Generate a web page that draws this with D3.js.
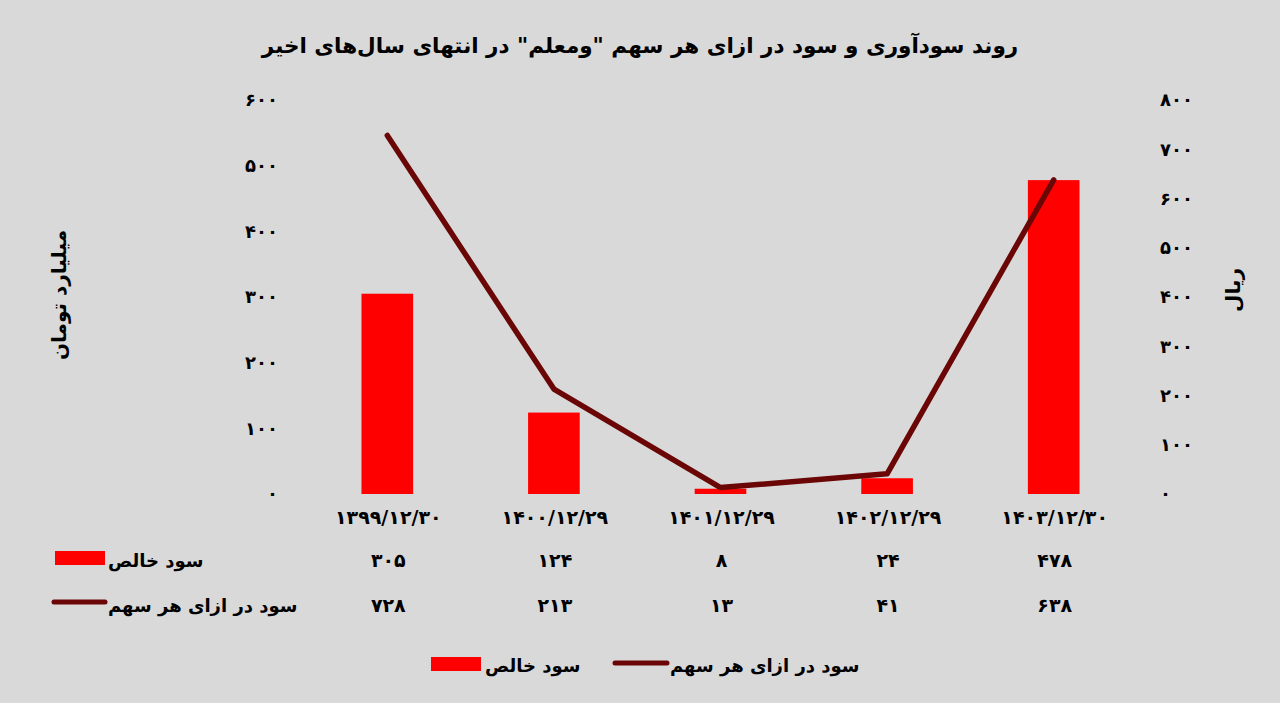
<html>
<head>
<meta charset="utf-8">
<style>
  body { margin: 0; background: #d9d9d9; }
  text { font-family: "DejaVu Sans", sans-serif; font-weight: bold; fill: #000; }
</style>
</head>
<body>
<svg id="mainSvg" width="1280" height="703"></svg>
<script src="https://d3js.org/d3.v7.min.js"></script>
<script>
const categories = ['1399/12/30', '1400/12/29', '1401/12/29', '1402/12/29', '1403/12/30']
const netProfit = [305, 124, 8, 24, 478]
const eps = [728, 213, 13, 41, 638]
const leftTicks = [0, 100, 200, 300, 400, 500, 600]
const rightTicks = [0, 100, 200, 300, 400, 500, 600, 700, 800]

const titleText = 'روند سودآوری و سود در ازای هر سهم "ومعلم" در انتهای سال‌های اخیر'
const barName = 'سود خالص'
const lineName = 'سود در ازای هر سهم'
const leftTitle = 'میلیارد تومان'
const rightTitle = 'ریال'

const barColor = '#ff0000', lineColor = '#6b0606'
const fa = v => String(v).replace(/\d/g, d => '۰۱۲۳۴۵۶۷۸۹'[d])

const svg = d3.select('#mainSvg')
svg.append('rect').attr('width', 1280).attr('height', 703).attr('fill', '#d9d9d9')

const plotTop = 100, plotBottom = 494, plotLeft = 304, plotRight = 1137

const xScale = d3.scaleBand().domain(categories).range([plotLeft, plotRight])
                .paddingInner(0.69).paddingOuter(0.345)
const yLeft = d3.scaleLinear().domain([0, 600]).range([plotBottom, plotTop])
const yRight = d3.scaleLinear().domain([0, 800]).range([plotBottom, plotTop])

// title
svg.append('text').attr('x', 640).attr('y', 53).attr('text-anchor', 'middle')
   .style('font-size', '21.5px').text(titleText)

// axes
const gl = svg.append('g').attr('transform', `translate(284,0)`)
   .call(d3.axisLeft(yLeft).tickValues(leftTicks).tickFormat(fa).tickSize(0).tickPadding(6))
gl.select('.domain').remove()
gl.selectAll('text').style('font-size', '18px').style('letter-spacing', '3.5px')
   .style('font-family', '"DejaVu Sans", sans-serif').attr('font-weight', 'bold')

const gr = svg.append('g').attr('transform', `translate(1154,0)`)
   .call(d3.axisRight(yRight).tickValues(rightTicks).tickFormat(fa).tickSize(0).tickPadding(6))
gr.select('.domain').remove()
gr.selectAll('text').style('font-size', '18px').style('letter-spacing', '3.5px')
   .style('font-family', '"DejaVu Sans", sans-serif').attr('font-weight', 'bold')

// axis titles
svg.append('text').attr('transform', 'translate(66,295) rotate(-90)').attr('text-anchor', 'middle')
   .style('font-size', '20px').text(leftTitle)
svg.append('text').attr('transform', 'translate(1240,290) rotate(-90)').attr('text-anchor', 'middle')
   .style('font-size', '20px').text(rightTitle)

// bars
svg.append('g').selectAll('rect').data(netProfit).join('rect')
   .attr('x', (d, i) => xScale(categories[i]))
   .attr('y', d => yLeft(d))
   .attr('width', xScale.bandwidth())
   .attr('height', d => yLeft(0) - yLeft(d))
   .attr('fill', barColor)

// line
const cx = c => xScale(c) + xScale.bandwidth() / 2
const line = d3.line().x((d, i) => cx(categories[i])).y(d => yRight(d))
svg.append('path').datum(eps).attr('d', line)
   .attr('fill', 'none').attr('stroke', lineColor).attr('stroke-width', 5.5)
   .attr('stroke-linecap', 'round').attr('stroke-linejoin', 'round')

// category labels
svg.append('g').selectAll('text').data(categories).join('text')
   .attr('x', d => cx(d) + 1).attr('y', 524).attr('text-anchor', 'middle')
   .style('font-size', '19px').style('letter-spacing', '2.6px').text(d => fa(d))

// data table
const rowY = [560, 605]
svg.append('g').selectAll('text').data(netProfit).join('text')
   .attr('x', (d, i) => cx(categories[i]) + 1).attr('y', rowY[0] + 7).attr('text-anchor', 'middle')
   .style('font-size', '19px').style('letter-spacing', '2px').text(d => fa(d))
svg.append('g').selectAll('text').data(eps).join('text')
   .attr('x', (d, i) => cx(categories[i]) + 1).attr('y', rowY[1] + 7).attr('text-anchor', 'middle')
   .style('font-size', '19px').style('letter-spacing', '2px').text(d => fa(d))

svg.append('rect').attr('x', 55).attr('y', rowY[0] - 9).attr('width', 50).attr('height', 14).attr('fill', barColor)
svg.append('text').attr('x', 108).attr('y', rowY[0] + 7).style('font-size', '18px').text(barName)
svg.append('line').attr('x1', 54).attr('x2', 105).attr('y1', rowY[1] - 3).attr('y2', rowY[1] - 3)
   .attr('stroke', lineColor).attr('stroke-width', 5).attr('stroke-linecap', 'round')
svg.append('text').attr('x', 108).attr('y', rowY[1] + 7).style('font-size', '18px').text(lineName)

// legend
const legY = 664
svg.append('rect').attr('x', 431).attr('y', legY - 7).attr('width', 50).attr('height', 14).attr('fill', barColor)
svg.append('text').attr('x', 485).attr('y', legY + 8).style('font-size', '18px').text(barName)
svg.append('line').attr('x1', 615).attr('x2', 667).attr('y1', legY - 1).attr('y2', legY - 1)
   .attr('stroke', lineColor).attr('stroke-width', 5).attr('stroke-linecap', 'round')
svg.append('text').attr('x', 670).attr('y', legY + 8).style('font-size', '18px').text(lineName)
</script>
</body>
</html>
